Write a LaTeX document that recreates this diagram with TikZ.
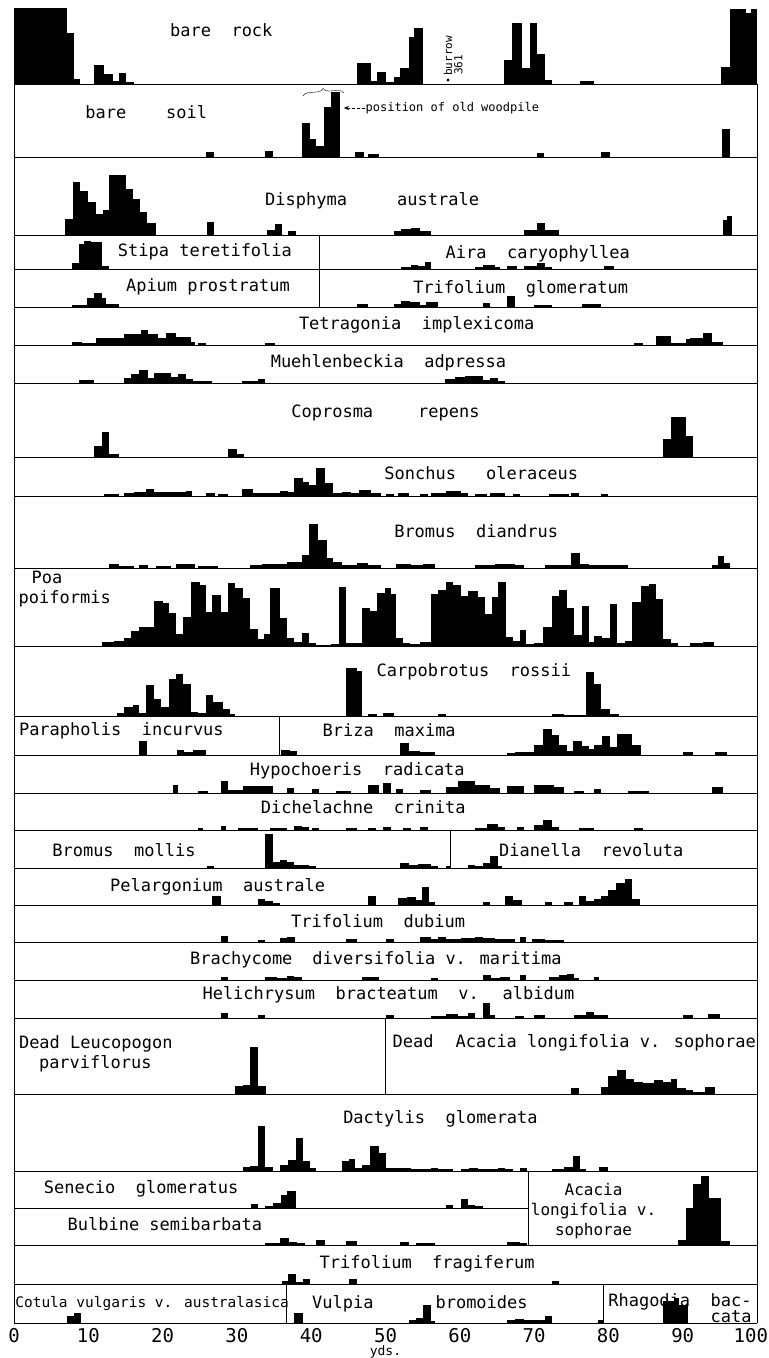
\documentclass[tikz,border=0pt]{standalone}
\usepackage{fontspec}
\setmainfont{DejaVu Sans Mono}
\newfontfamily\wideletters{DejaVu Sans Mono}[WordSpace=2]
\usetikzlibrary{decorations.pathreplacing,arrows.meta}

% histogram blocks: baseline, list of from/to/height
\newcommand{\hist}[2]{%
  \foreach \a/\b/\h in {#2}{\fill (\a,#1) rectangle (\b,#1-\h);}}

\tikzset{
  boxline/.style={line width=0.9pt},
  species/.style={font=\fontsize{17}{20}\selectfont, inner sep=0pt},
  widespecies/.style={font=\wideletters\fontsize{17}{20}\selectfont, inner sep=0pt},
  remark/.style={font=\fontsize{12}{14}\selectfont, inner sep=0pt},
  yardnum/.style={font=\fontsize{19}{21}\selectfont, inner sep=0pt}
}

\begin{document}
\begin{tikzpicture}[x=7.43pt, y=-1pt]
    \useasboundingbox (-1.884,0) rectangle (101.6,1358);

    % Frame
    \foreach \y in {84,157,235,269,307,345,383,457,496,568,646,716,755,793,830,868,905,942,980,1018,1094,1171,1245,1284,1323}
        \draw[boxline] (0,\y) -- (100,\y);
    \draw[boxline] (0,1208) -- (69.2,1208);
    \draw[boxline] (0,84) -- (0,1323);
    \draw[boxline] (100,84) -- (100,1323);
    \foreach \x/\ya/\yb in {41.1/235/307, 35.7/716/755, 58.8/830/868, 50/1018/1094, 69.2/1171/1245, 36.7/1284/1323, 79.4/1284/1323}
        \draw[boxline] (\x,\ya) -- (\x,\yb);

    % bare rock
    \hist{84}{0/7.1/76, 7.1/8.1/51, 8.1/8.9/5, 10.8/12.1/19, 12.1/13.3/10, 13.3/14.1/3, 14.1/15.1/11, 15.1/16.1/2,
      46.1/48.1/21, 48.1/48.9/3, 48.9/50.1/12, 50.1/51.1/2, 51.1/51.9/7, 51.9/53.1/16, 53.1/53.9/47, 53.9/55.1/56,
      66.0/67.0/24, 67.0/68.4/61, 68.4/69.4/16, 69.4/70.4/61, 70.4/71.4/30, 71.4/72.4/4, 76.2/78.0/3,
      95.2/96.3/17, 96.3/98.5/75, 98.5/99.2/71, 99.2/100/75}
    \node[widespecies, anchor=base] (rock) at (27.9,36) {bare rock};
    \fill (58.4,80) circle (1.6pt);
    \node[remark, font=\fontsize{11}{12}\selectfont, rotate=90, anchor=west] (burrow) at (58.4,76) {burrow};
    \node[remark, font=\fontsize{11}{12}\selectfont, rotate=90, anchor=west] (burrownum) at (59.8,75) {361};

    % bare soil
    \hist{157}{25.8/26.9/5, 33.8/34.8/6, 38.7/39.9/34, 39.9/40.7/18, 40.7/41.7/11, 41.7/42.7/50, 42.7/43.9/65,
      45.9/47.1/5, 47.7/49.1/3, 70.4/71.3/4, 79.0/80.2/5, 95.3/96.4/28}
    \node[species, anchor=base] (soil) at (17.8,118) {bare\hspace{40pt}soil};
    \draw[decorate, decoration={brace, amplitude=6pt}] (38.9,96) -- (44.4,93);
    \coordinate (pile) at (44.4,108);
    \node[remark, anchor=west] (woodpile) at (47.3,108) {position of old woodpile};
    \draw[densely dashed, -{Stealth[length=5pt,width=4pt]}] (woodpile.west) -- (pile);

    % Disphyma australe
    \hist{235}{6.8/7.9/16, 7.9/8.9/53, 8.9/10.0/44, 10.0/11.0/33, 11.0/12.0/21, 12.0/12.8/25, 12.8/15.1/60,
      15.1/16.0/46, 16.0/16.9/36, 16.9/17.9/23, 17.9/19.1/12, 26.0/26.9/13, 34.1/35.1/5, 35.1/36.1/11, 36.9/38.0/4,
      51.1/52.1/4, 52.1/53.4/6, 53.4/54.7/7, 54.7/56.1/4, 68.7/70.4/5, 70.4/71.4/12, 71.4/73.4/5,
      95.4/96.0/15, 96.0/96.6/19}
    \node[species, anchor=base] (disphyma) at (48.2,205) {Disphyma\hspace{50pt}australe};

    % Stipa teretifolia / Aira caryophyllea
    \hist{269}{7.8/8.8/6, 8.8/9.4/25, 9.4/10.4/28, 10.4/11.8/27, 11.8/12.8/3,
      52.1/53.4/2, 53.4/54.4/4, 54.4/55.3/3, 55.3/56.1/7, 62.1/63.1/2, 63.1/64.7/4, 64.7/65.4/2,
      66.4/67.7/3, 68.7/70.4/3, 70.4/71.4/6, 71.4/72.4/2, 79.4/80.7/3}
    \node[species, anchor=base] (stipa) at (25.7,256) {Stipa teretifolia};
    \node[widespecies, anchor=base] (aira) at (70.5,258) {Aira caryophyllea};

    % Apium prostratum / Trifolium glomeratum
    \hist{307}{7.8/9.8/2, 9.8/10.8/9, 10.8/11.8/14, 11.8/12.4/9, 12.4/14.1/3,
      46.1/47.7/3, 51.1/52.1/3, 52.1/53.3/6, 53.3/54.7/5, 54.7/55.5/2, 55.5/57.1/5, 63.1/64.1/4,
      66.4/67.4/11, 70.0/72.4/2, 76.4/79.0/3}
    \node[species, anchor=base] (apium) at (26.1,291) {Apium prostratum};
    \node[widespecies, anchor=base] (trifglom) at (68.2,293) {Trifolium glomeratum};

    % Tetragonia implexicoma
    \hist{345}{7.8/9.1/3, 9.1/11.1/2, 11.1/14.8/7, 14.8/17.1/11, 17.1/18.1/15, 18.1/19.4/11, 19.4/20.4/7,
      20.4/21.8/12, 21.8/23.8/8, 23.8/24.4/3, 24.8/25.8/2, 33.8/35.1/2,
      83.4/84.7/2, 86.4/88.4/9, 88.4/90.4/2, 90.4/91.0/6, 91.0/92.7/7, 92.7/94.0/12, 94.0/95.4/3}
    \node[widespecies, anchor=base] (tetragonia) at (54.2,329) {Tetragonia implexicoma};

    % Muehlenbeckia adpressa
    \hist{383}{8.8/10.8/3, 14.8/15.8/5, 15.8/16.8/9, 16.8/18.0/13, 18.0/18.9/5, 18.9/21.1/10, 21.1/22.1/6,
      22.1/23.1/9, 23.1/24.1/4, 24.1/26.7/2, 30.7/32.8/2, 32.8/33.8/4,
      58.0/59.4/4, 59.4/60.7/6, 60.7/63.1/7, 63.1/64.1/3, 64.1/65.1/5, 65.1/66.1/2}
    \node[widespecies, anchor=base] (muehlen) at (50.4,367) {Muehlenbeckia adpressa};

    % Coprosma repens
    \hist{457}{10.8/11.8/11, 11.8/12.8/25, 12.8/14.1/3, 28.8/30.0/8, 30.0/30.9/3,
      87.4/88.4/18, 88.4/90.4/40, 90.4/91.4/21}
    \node[species, anchor=base] (coprosma) at (50,417) {Coprosma\hspace{45pt}repens};

    % Sonchus oleraceus
    \hist{496}{12.1/14.1/2, 14.8/16.1/3, 16.1/17.8/4, 17.8/18.9/7, 18.9/23.1/4, 23.1/24.0/5, 25.8/27.1/3,
      27.4/28.8/2, 30.7/32.1/7, 32.1/35.8/3, 35.8/36.9/5, 36.9/37.7/4, 37.7/38.9/18, 38.9/39.7/14,
      39.7/40.7/11, 40.7/41.9/28, 41.9/42.9/13, 42.9/44.1/3, 44.1/45.4/4, 45.4/46.4/3, 46.4/48.1/6,
      48.1/49.4/3, 50.1/51.1/2, 51.7/53.1/3, 54.7/55.7/2, 56.1/58.1/3, 58.1/60.1/5, 60.1/61.1/3,
      62.1/63.7/2, 64.1/66.1/3, 67.1/68.1/2, 72.0/74.7/2, 75.0/76.0/3, 79.0/80.0/2}
    \node[species, anchor=base] (sonchus) at (62.9,479) {Sonchus\hspace{30pt}oleraceus};

    % Bromus diandrus
    \hist{568}{12.8/14.1/4, 14.1/16.1/2, 16.8/18.1/3, 19.1/21.1/2, 21.8/24.4/4, 24.8/27.4/2, 31.8/33.4/3,
      33.4/36.7/4, 36.7/37.7/6, 37.7/38.7/6, 38.7/39.7/13, 39.7/40.9/44, 40.9/42.1/28, 42.1/42.9/10,
      42.9/44.1/6, 44.1/46.1/3, 46.1/47.7/5, 47.7/49.4/3, 51.4/53.4/4, 53.4/55.1/3, 55.1/56.7/4,
      62.1/64.7/3, 64.7/67.4/4, 67.4/68.7/3, 71.4/75.0/3, 75.0/76.2/15, 76.2/77.4/4, 77.4/82.7/3,
      94.0/94.7/3, 94.7/95.5/12, 95.5/96.4/5}
    \node[widespecies, anchor=base] (bromdi) at (62.2,537) {Bromus diandrus};

    % Poa poiformis
    \hist{646}{11.8/13.4/4, 13.4/14.8/5, 14.8/15.8/8, 15.8/16.8/15, 16.8/18.8/19, 18.8/20.0/45, 20.0/20.8/43,
      20.8/21.8/33, 21.8/22.8/12, 22.8/23.8/29, 23.8/25.1/64, 25.1/25.8/61, 25.8/26.6/34, 26.6/27.8/51,
      27.8/28.8/34, 28.8/29.8/63, 29.8/30.8/58, 30.8/31.8/48, 31.8/32.8/17, 32.8/33.6/7, 33.6/34.4/12,
      34.4/35.8/58, 35.8/36.7/28, 36.7/37.7/8, 37.7/38.7/4, 38.7/39.7/13, 39.7/40.7/3, 40.7/42.7/1,
      42.7/43.7/2, 43.7/44.7/59, 44.7/46.9/3, 46.9/47.9/38, 47.9/48.9/35, 48.9/49.9/53, 49.9/50.7/58,
      50.7/51.4/52, 51.4/52.4/8, 52.4/53.3/3, 53.3/54.7/2, 54.7/56.1/4, 56.1/57.1/52, 57.1/58.1/56,
      58.1/59.1/64, 59.1/60.1/61, 60.1/61.1/50, 61.1/62.4/55, 62.4/63.4/49, 63.4/64.4/32, 64.4/65.2/49,
      65.2/66.2/64, 66.2/67.1/9, 67.1/68.1/5, 68.1/68.9/16, 68.9/70.0/2, 70.0/71.2/3, 71.2/72.4/19,
      72.4/73.4/50, 73.4/74.4/56, 74.4/75.4/38, 75.4/76.4/11, 76.4/77.4/40, 77.4/78.0/4, 78.0/79.2/10,
      79.2/80.2/8, 80.2/81.2/42, 81.2/82.2/3, 82.2/83.2/5, 83.2/84.4/44, 84.4/85.4/60, 85.4/86.4/62,
      86.4/87.4/47, 87.4/88.4/7, 88.4/89.4/3, 91.0/92.7/3, 92.7/94.2/4}
    \node[species, align=left, anchor=north west] (poa) at (0.6,571) {\hspace*{13pt}Poa\\poiformis};

    % Carpobrotus rossii
    \hist{716}{13.8/14.8/3, 14.8/16.0/9, 16.0/16.8/11, 16.8/17.8/3, 17.8/18.9/31, 18.9/19.8/17, 19.8/20.8/9,
      20.8/21.8/37, 21.8/22.8/42, 22.8/23.8/32, 23.8/24.8/4, 24.8/25.8/3, 25.8/26.8/21, 26.8/28.1/14,
      28.1/29.1/7, 29.1/29.8/2, 44.7/46.1/48, 46.1/46.9/45, 47.7/48.9/2, 49.7/51.1/3, 57.1/58.1/2,
      72.4/74.0/2, 74.0/77.0/1, 77.0/78.0/44, 78.0/79.0/32, 79.0/80.2/7, 80.2/81.4/2}
    \node[widespecies, anchor=base] (carpo) at (61.9,676) {Carpobrotus rossii};

    % Parapholis incurvus / Briza maxima
    \hist{755}{16.8/17.9/14, 21.9/22.9/5, 22.9/24.1/3, 24.1/25.8/5,
      35.9/37.1/5, 37.1/38.1/4, 51.9/53.1/12, 53.1/54.7/4, 54.7/56.7/3, 66.4/67.4/2, 67.4/68.7/3,
      68.7/70.0/3, 70.0/71.2/10, 71.2/72.4/26, 72.4/73.4/20, 73.4/74.4/10, 74.4/75.2/4, 75.2/76.4/14,
      76.4/77.4/9, 77.4/78.0/6, 78.0/79.2/10, 79.2/80.2/19, 80.2/81.2/8, 81.2/83.2/21, 83.2/84.4/10,
      90.0/91.4/3, 94.4/96.0/3}
    \node[widespecies, anchor=base west] (paraph) at (0.65,735) {Parapholis incurvus};
    \node[widespecies, anchor=base] (briza) at (50.5,736) {Briza maxima};

    % Hypochoeris radicata
    \hist{793}{21.4/22.1/8, 24.8/26.1/2, 27.8/28.8/12, 28.8/30.8/3, 30.8/34.8/7, 36.7/37.7/5, 40.1/41.1/4,
      43.4/45.4/2, 47.7/49.1/8, 49.7/50.7/10, 51.4/52.4/4, 54.7/56.1/3, 58.1/59.7/6, 59.7/62.1/12,
      62.1/64.1/8, 64.1/65.4/5, 66.4/68.7/7, 70.0/72.7/8, 72.7/74.0/6, 75.4/76.7/2, 78.0/79.0/4,
      82.7/85.4/2, 94.0/95.4/6}
    \node[widespecies, anchor=base] (hypo) at (46.2,775) {Hypochoeris radicata};

    % Dichelachne crinita
    \hist{830}{24.8/25.4/2, 27.8/28.6/4, 30.1/32.8/2, 34.4/36.7/2, 37.7/38.7/4, 38.7/39.7/3, 40.1/41.1/2,
      44.7/46.1/2, 47.7/48.7/2, 49.7/50.7/3, 52.4/53.4/2, 54.7/55.7/3, 62.1/63.7/2, 63.7/65.1/6,
      65.1/66.1/3, 67.7/68.7/3, 70.0/71.2/5, 71.2/72.4/10, 72.4/73.4/3, 76.0/78.0/2, 83.4/84.7/2}
    \node[widespecies, anchor=base] (dichel) at (47,813) {Dichelachne crinita};

    % Bromus mollis / Dianella revoluta
    \hist{868}{26.0/26.9/2, 33.8/34.8/34, 34.8/35.8/6, 35.8/36.7/8, 36.7/37.7/6, 37.7/39.7/3, 39.7/40.7/2,
      51.9/53.1/5, 53.1/54.4/3, 54.4/56.1/4, 56.1/57.1/2, 58.1/58.8/2,
      61.1/62.1/3, 62.1/63.1/2, 63.1/64.1/5, 64.1/65.1/12, 65.1/65.7/2}
    \node[widespecies, anchor=base] (brommol) at (14.8,856) {Bromus mollis};
    \node[widespecies, anchor=base] (dianella) at (77.7,856) {Dianella revoluta};

    % Pelargonium australe
    \hist{905}{26.6/27.8/9, 32.8/33.8/6, 33.8/34.8/4, 34.8/35.8/2, 47.7/48.7/9, 51.7/52.9/7, 52.9/54.1/8,
      54.1/54.9/5, 54.9/55.9/18, 55.9/56.7/3, 63.1/64.1/3, 66.1/67.1/9, 67.1/68.4/5, 71.4/72.4/3,
      74.0/75.2/3, 76.0/77.0/9, 77.0/78.0/4, 78.0/79.0/6, 79.0/80.0/9, 80.0/81.0/15, 81.0/82.2/22,
      82.2/83.2/26, 83.2/84.2/6}
    \node[widespecies, anchor=base] (pelarg) at (27.4,891) {Pelargonium australe};

    % Trifolium dubium
    \hist{942}{27.8/28.8/6, 32.8/33.8/2, 35.8/36.8/4, 36.8/37.8/5, 44.7/46.1/3, 50.1/51.1/3, 54.7/56.1/5,
      56.1/57.1/3, 57.1/58.1/5, 58.1/60.1/3, 60.1/62.1/4, 62.1/63.1/5, 63.1/64.7/4, 64.7/67.4/3,
      68.1/68.9/5, 69.7/71.4/3, 71.4/74.0/2}
    \node[widespecies, anchor=base] (trifdub) at (49,927) {Trifolium dubium};

    % Brachycome diversifolia v. maritima
    \hist{980}{27.8/28.8/3, 33.8/35.4/3, 35.4/36.7/2, 36.7/37.7/4, 37.7/38.7/3, 46.8/49.1/3, 56.1/57.1/2,
      63.1/64.2/5, 64.2/65.4/2, 65.4/66.7/3, 68.1/68.9/5, 72.0/73.4/3, 73.4/74.4/5, 74.4/75.4/6,
      75.4/76.0/2, 78.0/78.8/3}
    \node[species, anchor=base] (brachy) at (48.7,964) {Brachycome\hspace{20pt}diversifolia v. maritima};

    % Helichrysum bracteatum v. albidum
    \hist{1018}{27.8/28.8/5, 32.8/33.8/3, 50.1/51.1/3, 56.1/58.1/2, 58.1/59.7/4, 59.7/61.1/2, 61.1/62.1/5,
      63.1/64.1/15, 64.1/64.7/3, 67.4/68.7/2, 70.0/71.4/3, 75.4/77.0/3, 77.0/78.0/6, 78.0/80.0/3,
      90.0/91.4/3, 93.4/95.0/4}
    \node[widespecies, anchor=base] (helich) at (50.4,999) {Helichrysum bracteatum v. albidum};

    % Dead Leucopogon / Dead Acacia
    \hist{1094}{29.8/30.8/8, 30.8/31.8/9, 31.8/32.9/47, 32.9/33.9/8,
      75.0/76.0/6, 79.0/80.0/7, 80.0/81.2/18, 81.2/82.4/24, 82.4/83.4/15, 83.4/84.7/12, 84.7/86.2/11,
      86.2/87.4/14, 87.4/88.4/12, 88.4/89.2/15, 89.2/90.4/6, 90.4/91.4/4, 91.4/93.0/2, 93.0/94.3/7}
    \node[species, align=left, anchor=north west] (leuco) at (0.65,1035) {Dead Leucopogon\\\hspace*{20pt}parviflorus};
    \node[species, anchor=base] (deadacacia) at (75.4,1047) {Dead\hspace{22pt}Acacia longifolia v. sophorae};

    % Dactylis glomerata
    \hist{1171}{30.8/31.8/4, 31.8/32.8/5, 32.8/33.8/45, 33.8/34.8/4, 35.8/36.9/6, 36.9/37.9/11, 37.9/38.9/33,
      38.9/39.9/10, 39.9/40.7/3, 44.1/45.1/10, 45.1/45.9/12, 45.9/46.9/3, 46.9/47.9/6, 47.9/49.1/25,
      49.1/50.1/18, 50.1/51.1/3, 51.1/53.4/3, 53.4/54.7/2, 54.7/56.1/2, 56.1/57.1/3, 57.1/59.1/2,
      60.1/61.3/2, 61.3/62.4/3, 62.4/64.1/2, 64.1/65.1/2, 65.1/66.1/3, 66.1/67.1/2, 68.1/69.0/3,
      72.4/74.0/2, 74.0/75.2/4, 75.2/76.2/15, 76.2/77.0/2, 78.8/80.0/4}
    \node[widespecies, anchor=base] (dactylis) at (57.4,1123) {Dactylis glomerata};

    % Senecio glomeratus / Bulbine semibarbata / Acacia longifolia
    \hist{1208}{31.9/32.9/4, 33.8/34.8/2, 34.8/35.9/5, 35.9/36.7/13, 36.7/37.9/17, 58.1/59.1/3, 60.1/61.1/9,
      61.1/62.1/3, 62.1/63.1/2}
    \hist{1245}{33.8/35.8/2, 35.8/37.0/7, 37.0/38.1/3, 38.1/39.1/2, 40.7/41.9/5, 44.7/46.1/4, 51.9/53.1/3,
      54.1/56.7/2, 66.4/68.1/3, 68.1/69.0/2,
      89.4/90.4/5, 90.4/91.4/37, 91.4/92.4/61, 92.4/93.5/69, 93.5/95.2/47, 95.2/96.3/4}
    \node[widespecies, anchor=base] (senecio) at (17.1,1193) {Senecio glomeratus};
    \node[species, anchor=base] (bulbine) at (20.3,1230) {Bulbine semibarbata};
    \node[species, font=\fontsize{16}{20}\selectfont, align=center, anchor=north] (acacia) at (78,1183) {Acacia\\longifolia v.\\sophorae};

    % Trifolium fragiferum
    \hist{1284}{36.1/36.9/3, 36.9/37.9/10, 37.9/38.9/2, 38.9/39.9/5, 45.1/46.1/5, 72.4/73.4/3}
    \node[widespecies, anchor=base] (trifrag) at (55.6,1268) {Trifolium fragiferum};

    % Cotula vulgaris / Vulpia bromoides / Rhagodia baccata
    \hist{1323}{7.1/8.1/7, 8.1/9.0/10,
      37.7/38.9/10, 53.1/54.1/3, 54.1/55.1/5, 55.1/56.1/18, 56.1/56.7/2, 66.4/67.4/3, 67.4/68.7/4,
      68.7/71.4/3, 71.4/72.4/7, 78.6/79.4/3,
      87.4/88.8/22, 88.8/89.5/25, 89.5/90.7/18}
    \node[species, font=\fontsize{14.5}{16}\selectfont, anchor=base west] (cotula) at (0.15,1307) {Cotula vulgaris v. australasica};
    \node[species, anchor=base west] (vulpia) at (40.1,1308) {Vulpia\hspace{62pt}bromoides};
    \node[widespecies, font=\wideletters\fontsize{17}{14}\selectfont, align=right, anchor=north east] (rhagodia) at (99.3,1293) {Rhagodia bac-\\cata};

    % Scale
    \foreach \n in {0,10,...,90}
        \node[yardnum] (yd\n) at (\n,1336) {\n};
    \node[yardnum, anchor=east] (yd100) at (101.5,1336) {100};
    \node[remark, font=\fontsize{13}{15}\selectfont] (yds) at (50,1352) {yds.};
\end{tikzpicture}
\end{document}
